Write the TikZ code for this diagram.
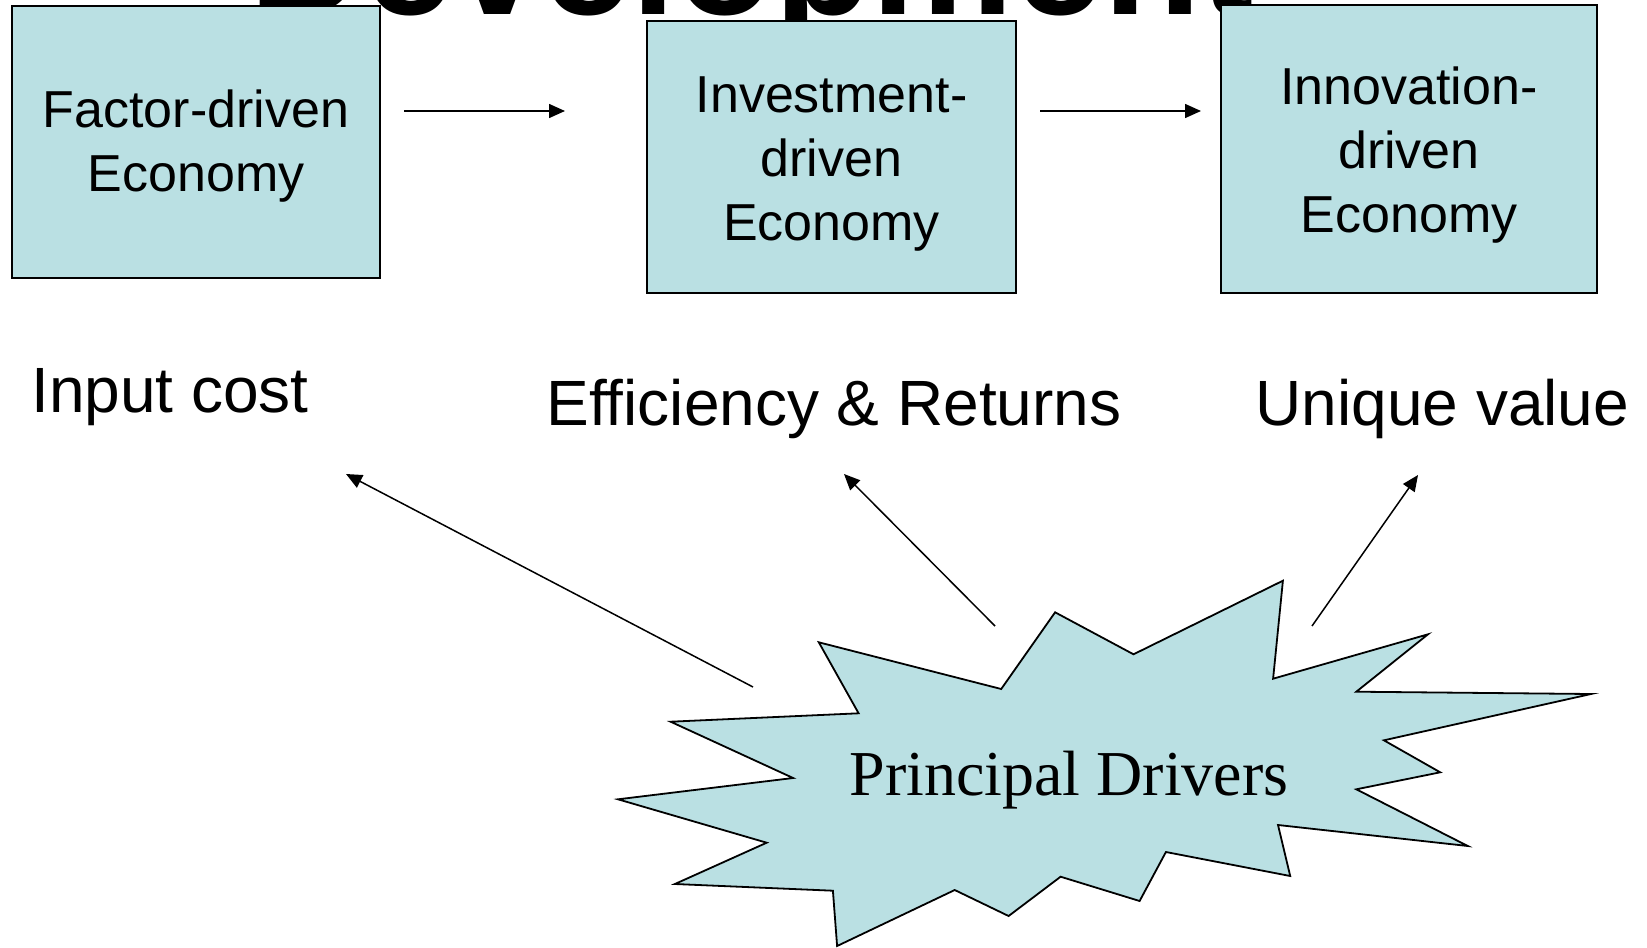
\documentclass[tikz,border=0pt]{standalone}
\usepackage{fontspec}
\setmainfont{Liberation Sans}
\newfontfamily\serifpd{Liberation Serif}
\usetikzlibrary{arrows.meta}
\definecolor{boxfill}{RGB}{186,224,227}
\begin{document}
\begin{tikzpicture}[x=0.5pt,y=-0.5pt,
  econbox/.style={draw=black, line width=0.9pt, fill=boxfill, inner sep=0pt},
  econtext/.style={inner sep=0pt, align=center, font=\fontsize{26}{32}\selectfont},
  lbl/.style={font=\fontsize{32}{38}\selectfont, anchor=base, inner sep=0pt},
  arr/.style={-{Triangle[length=8pt,width=7pt]}, line width=0.75pt},
  burst/.style={draw=black, fill=boxfill, line width=0.9pt, line join=miter}]
\useasboundingbox (0,0) rectangle (1647,947);
\begin{scope}
\clip (0,0) rectangle (1647,947);
\node[anchor=base west, inner sep=0pt, font=\fontsize{80}{96}\selectfont\bfseries] (title) at (249,15) {Development};
\end{scope}
% boxes
\node[econbox, minimum width=184pt, minimum height=136pt] (b1) at (196,142) {};
\node[econbox, minimum width=184.5pt, minimum height=136pt] (b2) at (831.5,157) {};
\node[econbox, minimum width=188pt, minimum height=144pt] (b3) at (1409,149) {};
\node[econtext] (t1) at ([yshift=-2.1pt]b1.center) {Factor-driven\\Economy};
\node[econtext] (t2) at ([yshift=-3.7pt]b2.center) {Investment-\\driven\\Economy};
\node[econtext] (t3) at ([yshift=-3.2pt]b3.center) {Innovation-\\driven\\Economy};
% horizontal arrows
\coordinate (a1s) at (404,111); \coordinate (a1e) at (565,111);
\coordinate (a2s) at (1040,111); \coordinate (a2e) at (1201,111);
\draw[arr] (a1s) -- (a1e);
\draw[arr] (a2s) -- (a2e);
% labels
\node[lbl] (l1) at (170,412) {Input cost};
\node[lbl] (l2) at (834,425) {Efficiency \& Returns};
\node[lbl] (l3) at (1442.5,425) {Unique value};
% starburst
\draw[burst] (818.8,642.3) -- (1001.2,689) -- (1055.1,612.3) -- (1133.5,654.3)
  -- (1282.9,580.7) -- (1273.1,678.7) -- (1428,634.3) -- (1356.3,691.7)
  -- (1591,694) -- (1383.9,740.3) -- (1440.2,772.3) -- (1356.3,789.3)
  -- (1467.8,846) -- (1278,825) -- (1290.2,876) -- (1165.9,852)
  -- (1139.6,901) -- (1060.6,876.7) -- (1008.6,916) -- (954.7,890)
  -- (837.1,946) -- (832.9,890.7) -- (674.9,884) -- (766.7,842.7)
  -- (618,799.3) -- (793.1,778) -- (670.6,721.7) -- (858.6,713.3) -- cycle;
\node[anchor=base, inner sep=0pt, font=\serifpd\fontsize{32}{38}\selectfont] (pd) at (1069,795) {Principal Drivers};
% diagonal arrows
\coordinate (d1s) at (753,687); \coordinate (d1e) at (346,474);
\coordinate (d2s) at (995,626); \coordinate (d2e) at (844,474);
\coordinate (d3s) at (1312,626); \coordinate (d3e) at (1418,475);
\draw[arr] (d1s) -- (d1e);
\draw[arr] (d2s) -- (d2e);
\draw[arr] (d3s) -- (d3e);
\end{tikzpicture}
\end{document}
